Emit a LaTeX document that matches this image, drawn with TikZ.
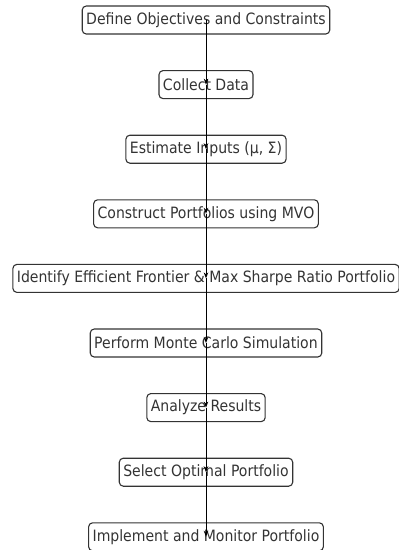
\documentclass[tikz,border=0pt]{standalone}
\usepackage{fontspec}
\setmainfont{DejaVu Sans Condensed}
\usetikzlibrary{arrows.meta}
\definecolor{ink}{HTML}{333333}
\tikzset{
  stepbox/.style={draw=ink, line width=1.1pt, rounded corners=4pt, text=ink,
    font=\fontsize{15.6}{17}\selectfont, minimum height=28pt, inner xsep=4pt, inner ysep=0pt},
  flow/.style={draw=black, line width=0.9pt, -{Stealth[length=6pt,width=4.5pt]}}
}
\begin{document}
\begin{tikzpicture}[x=1pt,y=-1pt]
\useasboundingbox (0,0) rectangle (399,550);
\node[stepbox] (n1) at (206,20) {Define Objectives and Constraints};
\node[stepbox] (n2) at (206,84.6) {Collect Data};
\node[stepbox] (n3) at (206,149.2) {Estimate Inputs (μ, Σ)};
\node[stepbox] (n4) at (206,213.8) {Construct Portfolios using MVO};
\node[stepbox] (n5) at (206,278.4) {Identify Efficient Frontier \& Max Sharpe Ratio Portfolio};
\node[stepbox] (n6) at (206,343) {Perform Monte Carlo Simulation};
\node[stepbox] (n7) at (206,407.6) {Analyze Results};
\node[stepbox] (n8) at (206,472.2) {Select Optimal Portfolio};
\node[stepbox] (n9) at (206,536.8) {Implement and Monitor Portfolio};
\foreach \a/\b in {n1/n2,n2/n3,n3/n4,n4/n5,n5/n6,n6/n7,n7/n8,n8/n9}
  \draw[flow] (\a.center) -- (\b.center);
\end{tikzpicture}
\end{document}
